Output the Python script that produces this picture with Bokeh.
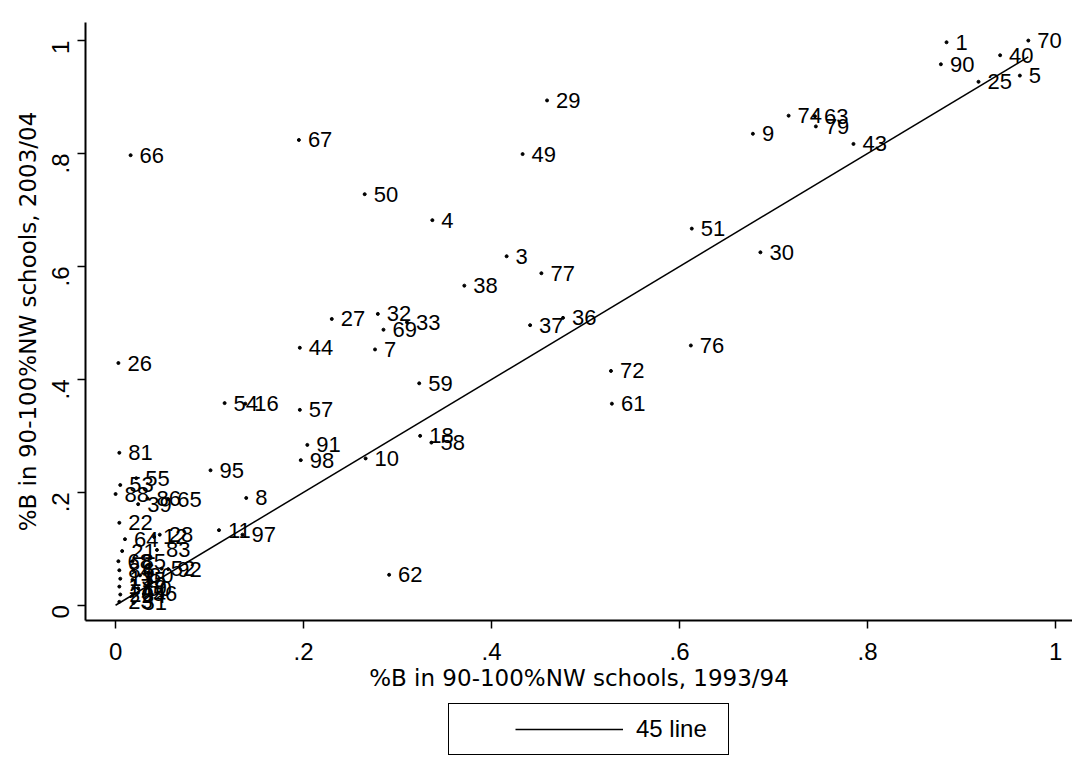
import math
from bokeh.plotting import figure
from bokeh.layouts import column
from bokeh.models import ColumnDataSource, FixedTicker, Range1d, Legend, LegendItem
from bokeh.core.properties import value
from bokeh.embed import file_html
from bokeh.resources import INLINE

FONT = "Liberation Sans"
TITLE_FONT = "DejaVu Sans"

# Data: state id labels, share of Black students in 90-100% nonwhite schools
labels = ["1", "90", "70", "40", "25", "5", "74", "63", "79", "9", "43", "51", "30",
          "29", "49", "50", "4", "3", "67", "66", "77", "38", "32", "69", "33", "7",
          "27", "44", "59", "37", "36", "76", "72", "61", "18", "58", "10", "62",
          "98", "91", "26", "54", "16", "57", "81", "95", "53", "55", "88", "39",
          "86", "65", "8", "22", "64", "12", "28", "83", "11", "97", "21", "52", "92",
          "68", "84", "13", "17", "20", "23", "85", "6", "15", "19", "24", "31",
          "60", "80", "56"]
x_1993 = [0.884, 0.878, 0.971, 0.941, 0.918, 0.962, 0.716, 0.744, 0.745, 0.678, 0.785, 0.613, 0.686,
          0.459, 0.433, 0.265, 0.337, 0.416, 0.195, 0.016, 0.453, 0.371, 0.279, 0.285, 0.310, 0.276,
          0.230, 0.196, 0.323, 0.441, 0.476, 0.612, 0.527, 0.528, 0.324, 0.336, 0.266, 0.291,
          0.197, 0.204, 0.003, 0.116, 0.138, 0.196, 0.004, 0.101, 0.005, 0.022, 0.000, 0.024,
          0.034, 0.056, 0.139, 0.004, 0.010, 0.041, 0.047, 0.044, 0.110, 0.135, 0.007, 0.049, 0.056,
          0.003, 0.004, 0.005, 0.004, 0.005, 0.004, 0.018, 0.019, 0.018, 0.019, 0.018, 0.019,
          0.024, 0.026, 0.030]
y_2003 = [0.997, 0.958, 1.000, 0.974, 0.927, 0.938, 0.867, 0.866, 0.848, 0.835, 0.817, 0.667, 0.625,
          0.894, 0.799, 0.728, 0.682, 0.618, 0.824, 0.797, 0.588, 0.566, 0.516, 0.488, 0.501, 0.453,
          0.507, 0.456, 0.393, 0.496, 0.509, 0.460, 0.415, 0.357, 0.300, 0.288, 0.260, 0.054,
          0.257, 0.284, 0.429, 0.358, 0.357, 0.346, 0.270, 0.239, 0.213, 0.225, 0.197, 0.179,
          0.189, 0.188, 0.190, 0.146, 0.117, 0.121, 0.125, 0.098, 0.133, 0.125, 0.096, 0.065, 0.064,
          0.078, 0.062, 0.047, 0.033, 0.019, 0.006, 0.078, 0.062, 0.045, 0.031, 0.017, 0.004,
          0.030, 0.053, 0.020]

line_x = [0.0, 0.971]
line_y = [0.0, 0.971]

x_ticks = [0, 0.2, 0.4, 0.6, 0.8, 1.0]
tick_text = ["0", ".2", ".4", ".6", ".8", "1"]

src = ColumnDataSource(dict(x=x_1993, y=y_2003, label=labels))

p = figure(width=1072, height=700, output_backend="svg", toolbar_location=None,
           x_range=Range1d(-0.032, 1.018), y_range=Range1d(-0.027, 1.032),
           min_border_left=85, min_border_right=0, min_border_top=22, min_border_bottom=80,
           x_axis_label="%B in 90-100%NW schools, 1993/94",
           y_axis_label="%B in 90-100%NW schools, 2003/04")

p.background_fill_color = "white"
p.border_fill_color = "white"
p.outline_line_color = None
p.xgrid.grid_line_color = None
p.ygrid.grid_line_color = None

overrides = {t: s for t, s in zip(x_ticks, tick_text)}
for ax in (p.xaxis[0], p.yaxis[0]):
    ax.ticker = FixedTicker(ticks=x_ticks)
    ax.major_label_overrides = overrides
    ax.axis_line_width = 2
    ax.axis_line_color = "black"
    ax.major_tick_out = 8
    ax.major_tick_in = 0
    ax.major_tick_line_width = 1.5
    ax.minor_tick_line_color = None
    ax.major_label_text_font = FONT
    ax.major_label_text_font_size = "24px"
    ax.major_label_text_color = "black"
    ax.axis_label_text_font = TITLE_FONT
    ax.axis_label_text_font_size = "23px"
    ax.axis_label_text_font_style = "normal"
    ax.axis_label_text_color = "black"

p.yaxis.major_label_orientation = math.pi / 2
p.xaxis.major_label_standoff = 14
p.xaxis.axis_label_standoff = 2
p.yaxis.major_label_standoff = 17
p.yaxis.axis_label_standoff = 0

p.line(line_x, line_y, line_color="black", line_width=1.5)

p.scatter("x", "y", source=src, size=3, color="black")
p.text("x", "y", text="label", source=src, x_offset=9, text_baseline="middle",
       text_align="left", text_font=value(FONT), text_font_size="22px", text_color="black")

# Legend strip below the plot (its frame is aligned with the main plot frame)
leg = figure(width=1072, height=60, output_backend="svg", toolbar_location=None,
             x_range=Range1d(5, 6), y_range=Range1d(5, 6),
             min_border=0, min_border_left=0, min_border_right=0,
             min_border_top=0, min_border_bottom=0)
leg.axis.visible = False
leg.xgrid.grid_line_color = None
leg.ygrid.grid_line_color = None
leg.outline_line_color = None
leg.background_fill_color = "white"
leg.border_fill_color = "white"
ln = leg.line(line_x, line_y, line_color="black", line_width=1.5)

legend = Legend(items=[LegendItem(label="45 line", renderers=[ln])],
                location=(363, 5), glyph_width=108, glyph_height=24, padding=11,
                label_standoff=13, label_width=81,
                title="\u00a0", title_location="left", title_text_font_size="10px",
                title_standoff=44,
                border_line_color="black", border_line_width=1.5, border_line_alpha=1.0,
                label_text_font=FONT, label_text_font_size="24px", label_text_color="black",
                margin=0, background_fill_color="white", background_fill_alpha=1.0)
leg.add_layout(legend)

layout = column(p, leg, spacing=0)
open("out.html", "w").write(file_html(layout, INLINE))
